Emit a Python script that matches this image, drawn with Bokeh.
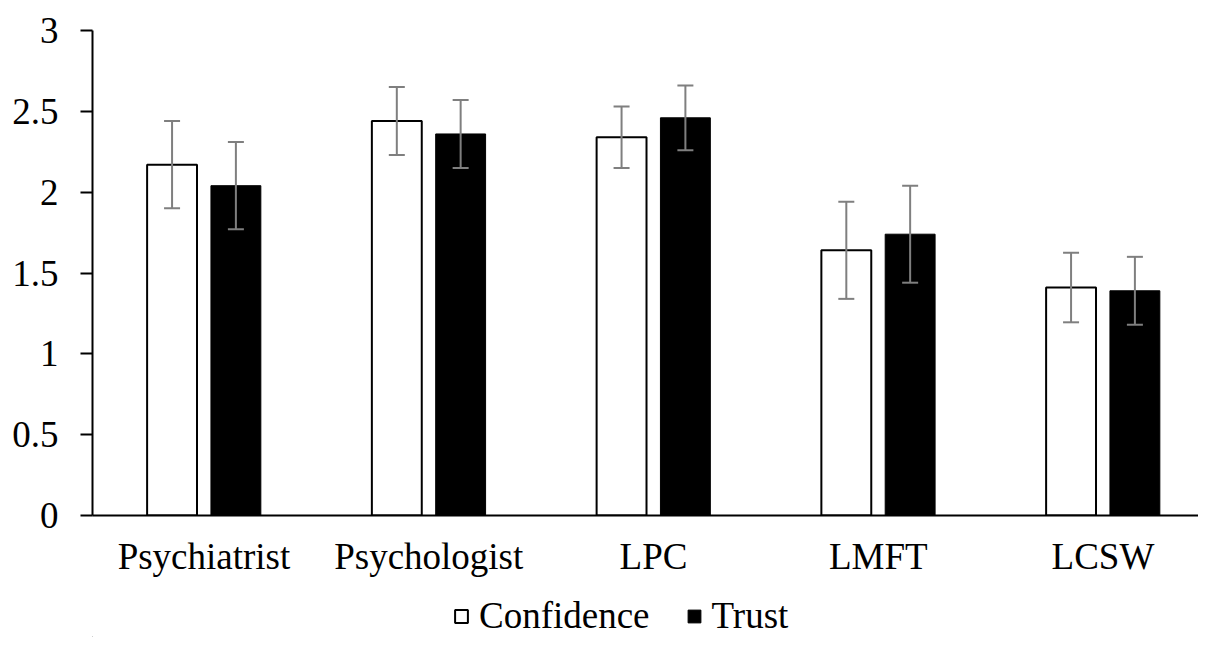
import numpy as np
from bokeh.plotting import figure
from bokeh.layouts import column
from bokeh.models import (ColumnDataSource, Whisker, TeeHead, FixedTicker,
                          Legend, LegendItem, Range1d)
from bokeh.embed import file_html
from bokeh.resources import INLINE

categories = ["Psychiatrist", "Psychologist", "LPC", "LMFT", "LCSW"]
confidence = [2.17, 2.44, 2.34, 1.64, 1.41]
confidence_err = [0.27, 0.21, 0.19, 0.30, 0.215]
trust = [2.04, 2.36, 2.46, 1.74, 1.39]
trust_err = [0.27, 0.21, 0.20, 0.30, 0.21]
series_names = ["Confidence", "Trust"]
y_ticks = [0, 0.5, 1, 1.5, 2, 2.5, 3]
y_tick_labels = ["0", "0.5", "1", "1.5", "2", "2.5", "3"]

FONT = "Liberation Serif"
FS = "37px"
idx = np.arange(len(categories))
off = 0.142
bw = 0.222

conf_src = ColumnDataSource(dict(
    x=idx - off, top=confidence,
    upper=np.array(confidence) + np.array(confidence_err),
    lower=np.array(confidence) - np.array(confidence_err)))
trust_src = ColumnDataSource(dict(
    x=idx + off, top=trust,
    upper=np.array(trust) + np.array(trust_err),
    lower=np.array(trust) - np.array(trust_err)))

p = figure(width=1198, height=590, output_backend="svg", toolbar_location=None,
           x_range=Range1d(-0.496, 4.425), y_range=Range1d(0, 3),
           min_border_left=92, min_border_right=0, min_border_top=30,
           min_border_bottom=75)
p.outline_line_color = None
p.grid.visible = False
p.background_fill_color = "white"
p.border_fill_color = "white"

p.vbar(x="x", top="top", width=bw, bottom=0, source=conf_src,
       fill_color="white", line_color="black", line_width=2)
p.vbar(x="x", top="top", width=bw, bottom=0, source=trust_src,
       fill_color="black", line_color="black", line_width=1)

for src in (conf_src, trust_src):
    w = Whisker(source=src, base="x", upper="upper", lower="lower",
                line_color="#7f7f7f", line_width=2, level="overlay",
                upper_head=TeeHead(size=16, line_color="#7f7f7f", line_width=2),
                lower_head=TeeHead(size=16, line_color="#7f7f7f", line_width=2))
    p.add_layout(w)

# y axis
ya = p.yaxis[0]
ya.ticker = FixedTicker(ticks=y_ticks)
ya.major_label_overrides = {t: l for t, l in zip(y_ticks, y_tick_labels)}
ya.axis_line_color = "black"
ya.axis_line_width = 2
ya.major_tick_line_color = "black"
ya.major_tick_line_width = 2
ya.major_tick_out = 12
ya.major_tick_in = 0
ya.minor_tick_line_color = None
ya.major_label_text_font = FONT
ya.major_label_text_font_size = FS
ya.major_label_text_color = "black"
ya.major_label_standoff = 22

# x axis
xa = p.xaxis[0]
xa.ticker = FixedTicker(ticks=list(idx))
xa.major_label_overrides = {int(i): c for i, c in zip(idx, categories)}
xa.axis_line_color = "black"
xa.axis_line_width = 2
xa.major_tick_line_color = None
xa.minor_tick_line_color = None
xa.major_label_text_font = FONT
xa.major_label_text_font_size = FS
xa.major_label_text_color = "black"
xa.major_label_standoff = 14

# legend strip below the chart (swatch glyphs are off-view, only for the legend)
lg = figure(width=1198, height=47, output_backend="svg", toolbar_location=None,
            x_range=Range1d(0, 1), y_range=Range1d(0, 1),
            min_border=0, x_axis_type=None, y_axis_type=None)
lg.outline_line_color = None
lg.grid.visible = False
lg_conf = lg.vbar(x=[-10], top=[-9], bottom=-10, width=1,
                  fill_color="white", line_color="black", line_width=2)
lg_trust = lg.vbar(x=[-10], top=[-9], bottom=-10, width=1,
                   fill_color="black", line_color="black", line_width=1)
legend = Legend(items=[LegendItem(label=series_names[0], renderers=[lg_conf]),
                       LegendItem(label=series_names[1], renderers=[lg_trust])],
                orientation="horizontal", location=(361, 0),
                label_text_font=FONT, label_text_font_size=FS,
                label_text_color="black",
                glyph_width=16, glyph_height=16, spacing=36,
                label_standoff=10, border_line_color=None,
                background_fill_alpha=0, margin=0, padding=2)
lg.add_layout(legend, "center")

layout = column(p, lg, spacing=0)
open("out.html", "w").write(file_html(layout, INLINE))
